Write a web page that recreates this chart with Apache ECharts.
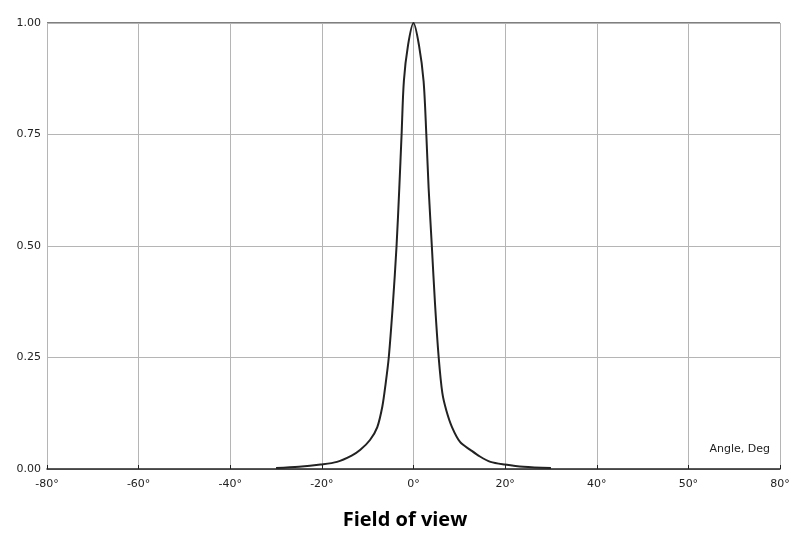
<!DOCTYPE html>
<html>
<head>
<meta charset="utf-8">
<script src="https://cdn.jsdelivr.net/npm/echarts@6/dist/echarts.min.js"></script>
<style>html,body{margin:0;padding:0;background:#fff}#chart{width:796px;height:540px}</style>
</head>
<body>
<div id="chart"></div>
<script>
// angle (deg) vs relative response
const angles = [-30, -25, -20.3, -16.7, -13.5, -11.6, -9.5, -7.9, -6.8, -6.1, -5.4, -4.5, -3.7, -3.1, -2.6, -2.1, -1.2, 0, 1.2, 2.2, 2.8, 3.3, 4.0, 4.7, 5.5, 6.3, 7.2, 8.4, 10.2, 12.4, 14.5, 16.8, 20, 24, 30];
const values = [0.002, 0.005, 0.01, 0.016, 0.03, 0.043, 0.065, 0.094, 0.14, 0.19, 0.25, 0.37, 0.5, 0.63, 0.75, 0.87, 0.95, 1.0, 0.95, 0.87, 0.75, 0.63, 0.5, 0.37, 0.25, 0.17, 0.13, 0.094, 0.06, 0.043, 0.028, 0.016, 0.01, 0.005, 0.002];
const xTickLabels = { "-80": "-80°", "-60": "-60°", "-40": "-40°", "-20": "-20°", "0": "0°", "20": "20°", "40": "40°", "60": "50°", "80": "80°" };

const chart = echarts.init(document.getElementById("chart"));
chart.setOption({
    animation: false,
    grid: { left: 47, right: 16, top: 23, bottom: 71 },
    title: {
        text: "Field of view", left: 400, textAlign: "center", top: 505,
        textStyle: { fontFamily: "Open Sans", fontWeight: "bold", fontSize: 20, color: "#000" }
    },
    graphic: [{
        type: "text", right: 26, top: 444,
        style: { text: "Angle, Deg", font: "11px 'DejaVu Sans'", fill: "#222" }
    }, {
        type: "line", shape: { x1: 47, y1: 23, x2: 780, y2: 23 },
        style: { stroke: "#555", lineWidth: 1.5 }
    }],
    xAxis: {
        type: "value", min: -80, max: 80, interval: 20,
        axisLine: { lineStyle: { color: "#222", width: 1.5 } },
        axisTick: { show: true, length: 4, inside: true, lineStyle: { color: "#222" } },
        axisLabel: { color: "#222", fontSize: 11, fontFamily: "DejaVu Sans", margin: 10,
            formatter: v => xTickLabels[String(v)] || "" },
        splitLine: { lineStyle: { color: "#b5b5b5" } }
    },
    yAxis: {
        type: "value", min: 0, max: 1, interval: 0.25,
        axisLine: { show: true, lineStyle: { color: "#b5b5b5" } },
        axisTick: { show: false },
        axisLabel: { color: "#222", fontSize: 11, fontFamily: "DejaVu Sans", margin: 6,
            formatter: v => v.toFixed(2) },
        splitLine: { lineStyle: { color: "#b5b5b5" } }
    },
    series: [{
        type: "line",
        data: angles.map((a, i) => [a, values[i]]),
        showSymbol: false,
        smooth: 0.3,
        lineStyle: { color: "#222", width: 2 }
    }]
});
</script>
</body>
</html>
